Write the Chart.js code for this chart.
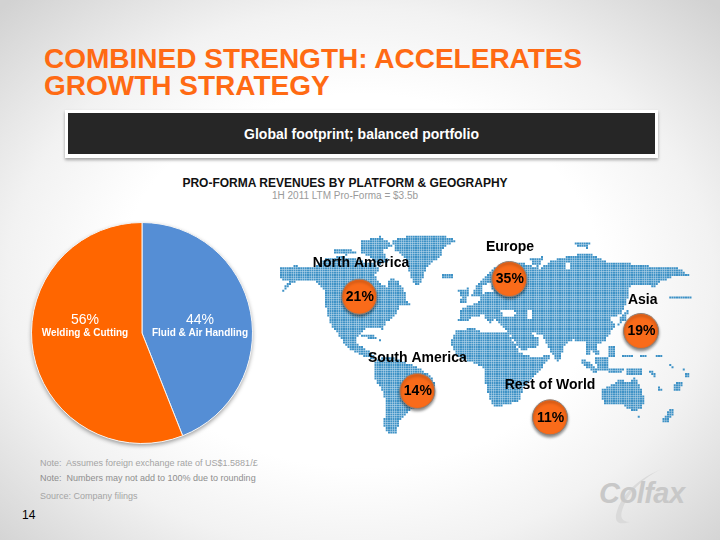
<!DOCTYPE html>
<html>
<head>
<meta charset="utf-8">
<title>Combined strength</title>
<script src="https://cdn.jsdelivr.net/npm/chart.js@4"></script>
<style>
  html, body { margin: 0; padding: 0; }
  body {
    position: relative; width: 720px; height: 540px; overflow: hidden;
    font-family: "Liberation Sans", Arial, sans-serif;
    background: radial-gradient(ellipse 70% 72% at 50% 52%, #fff 48%, #f2f2f2 70%, #d2d2d2 100%);
  }
  .t { position: absolute; white-space: nowrap; }
  #title { left: 44px; top: 45px; font-size: 28px; line-height: 27px; font-weight: bold; color: #ff6a13; }
  #banner { position: absolute; left: 65px; top: 110px; width: 593px; height: 48px; background: #fff; box-shadow: 0 2px 3px rgba(0,0,0,.35); }
  #bannerIn { position: absolute; left: 3px; top: 3px; width: 587px; height: 41px; background: #262626; color: #fff;
    font-size: 14px; font-weight: bold; line-height: 42px; text-align: center; }
  #sub1 { left: 0; width: 690px; text-align: center; top: 176px; font-size: 12px; font-weight: bold; color: #111; }
  #sub2 { left: 0; width: 690px; text-align: center; top: 190px; font-size: 10px; color: #9a9a9a; }
  .note { left: 40px; font-size: 9px; color: #a4a4a4; }
  #page { left: 22px; top: 508px; font-size: 12px; color: #000; }
  #logo { left: 599px; top: 477px; font-size: 29px; font-weight: bold; font-style: italic; color: #c8c8c8; letter-spacing: -.5px; }
  #swoosh { position: absolute; left: 590px; top: 465px; }
  canvas { position: absolute; }
  #pieChart { left: 22px; top: 213px; }
  #mapChart { left: 280px; top: 220px; }
</style>
</head>
<body>
<div class="t" id="title">COMBINED STRENGTH: ACCELERATES<br>GROWTH STRATEGY</div>
<div id="banner"><div id="bannerIn">Global footprint; balanced portfolio</div></div>
<div class="t" id="sub1">PRO-FORMA REVENUES BY PLATFORM &amp; GEOGRAPHY</div>
<div class="t" id="sub2">1H 2011 LTM Pro-Forma = $3.5b</div>
<canvas id="pieChart" width="240" height="240"></canvas>
<canvas id="mapChart" width="440" height="230"></canvas>
<div class="t note" style="top:458px">Note:&nbsp; Assumes foreign exchange rate of US$1.5881/£</div>
<div class="t note" style="top:473px;color:#8e8e8e">Note:&nbsp; Numbers may not add to 100% due to rounding</div>
<div class="t note" style="top:491px">Source: Company filings</div>
<div class="t" id="page">14</div>
<svg id="swoosh" width="110" height="65"><path d="M72 4 C50 12 30 30 26 50 C25 58 30 60 40 57 C32 57 30 52 32 46 C37 28 54 12 72 4 Z" fill="#dadada"/></svg>
<div class="t" id="logo">Colfax</div>

<script>
// platform split
const platformNames = ["Fluid & Air Handling", "Welding & Cutting"];
const platformShares = [44, 56];
const platformColors = ["#558ed5", "#ff6600"];

// geography split, x/y are in map units (see map polygons below)
const regionNames = ["North America", "Europe", "Asia", "South America", "Rest of World"];
const regionShares = [21, 35, 19, 14, 11];
const regionX = [238, 688, 1083, 412, 810];
const regionY = [230, 177, 333, 513, 592];
const regionLabelX = [243, 690, 1088, 412, 810];
const regionLabelY = [128, 80, 241, 414, 494];

// rough continent outlines, map units are 1/3 px across the map chart
const land = [
  // north america
  [[0,145],[45,137],[100,142],[135,115],[175,110],[215,112],[250,125],[280,130],[300,150],[285,165],[300,190],[322,200],[330,170],[350,180],[372,205],[378,235],[392,258],[360,258],[345,285],[315,310],[310,335],[298,320],[260,325],[235,345],[225,365],[240,378],[255,385],[268,395],[290,412],[278,418],[245,405],[205,385],[175,345],[150,310],[138,265],[135,215],[105,185],[60,180],[30,195],[0,225],[25,185],[0,175]],
  [[165,88],[200,85],[235,100],[200,105],[165,100]],
  [[240,65],[300,50],[340,75],[310,90],[325,125],[290,135],[270,110],[240,95]],
  // greenland, iceland, uk
  [[335,60],[400,45],[480,45],[530,60],[490,85],[480,110],[440,140],[420,195],[400,190],[385,150],[375,115],[345,90]],
  [[485,165],[520,165],[520,175],[488,178]],
  [[535,210],[565,205],[562,245],[535,250],[545,230]],
  // eurasia
  [[570,235],[590,195],[640,145],[670,130],[730,130],[780,145],[820,120],[880,105],[930,100],[980,125],[1040,130],[1120,140],[1195,145],[1225,165],[1180,170],[1140,185],[1125,205],[1110,195],[1050,195],[1045,230],[1025,280],[990,295],[1010,315],[985,345],[975,365],[950,372],[960,410],[945,400],[932,392],[925,418],[915,385],[915,365],[880,360],[855,372],[835,430],[800,375],[785,345],[745,335],[770,350],[780,365],[770,385],[720,390],[685,335],[660,310],[645,298],[630,310],[610,285],[580,290],[555,305],[535,300],[545,265],[590,250],[605,228],[585,225]],
  // africa
  [[510,370],[530,330],[580,325],[620,340],[660,340],[685,340],[720,398],[760,412],[815,405],[770,465],[730,500],[720,540],[680,555],[640,560],[620,510],[610,440],[570,425],[530,405]],
  // south america
  [[290,418],[330,408],[370,425],[410,440],[450,465],[465,495],[430,550],[390,570],[360,600],[345,645],[325,640],[310,615],[318,560],[312,520],[285,480],[280,440]],
  // australia and the islands
  [[965,510],[995,495],[1025,475],[1040,490],[1065,470],[1095,535],[1085,565],[1060,575],[1030,555],[970,555]],
  [[1070,585],[1080,585],[1080,595],[1070,595]],
  [[900,415],[925,425],[955,455],[945,462],[905,430]],
  [[945,410],[985,412],[985,450],[950,450]],
  [[985,445],[1030,445],[1030,455],[985,458]],
  [[1035,445],[1085,447],[1090,465],[1040,462]],
  [[985,375],[1005,378],[1005,410],[988,410]],
  [[1020,295],[1045,270],[1040,300],[1015,315]],
  [[1175,560],[1185,575],[1160,610],[1145,605]],
  [[240,345],[280,345],[305,362],[270,358]],
  [[750,115],[790,110],[775,140],[755,135]],
  [[885,65],[930,70],[925,85],[890,80]],
  [[1165,232],[1235,231],[1235,237],[1165,238]],
  [[1025,402],[1060,402],[1060,408],[1025,408]],
  [[1080,402],[1100,402],[1100,408],[1080,408]],
  [[1125,404],[1150,404],[1150,410],[1125,410]],
  [[1165,425],[1183,440],[1178,446],[1163,432]],
  [[1205,445],[1213,445],[1213,455],[1205,455]],
  [[1217,458],[1225,458],[1225,470],[1217,470]],
  [[1135,500],[1150,510],[1145,516],[1135,508]],
  [[1180,490],[1210,485],[1200,512],[1185,515]],
  [[1110,450],[1130,462],[1125,470],[1108,458]]
];
const lakes = [
  [[662,272],[690,268],[712,276],[700,288],[672,288]],
  [[742,270],[752,270],[756,298],[744,300]],
  [[605,195],[630,190],[640,215],[610,220]],
  [[855,130],[870,130],[868,150],[855,148]]
];

function polyPath(chart, poly) {
  const sx = chart.scales.x, sy = chart.scales.y, p = new Path2D();
  poly.forEach((pt, i) => {
    const x = sx.getPixelForValue(pt[0]), y = sy.getPixelForValue(pt[1]);
    if (i === 0) p.moveTo(x, y); else p.lineTo(x, y);
  });
  p.closePath();
  return p;
}

// dotted map, one small square per grid cell that falls on land
const mapPlugin = {
  id: "dottedMap",
  beforeDatasetsDraw(chart) {
    const ctx = chart.ctx, pitch = 2.25;
    const paths = land.map((l) => polyPath(chart, l));
    const holes = lakes.map((l) => polyPath(chart, l));
    ctx.save();
    ctx.fillStyle = "#3f92c6";
    for (let y = 0; y < chart.height; y += pitch) {
      for (let x = 0; x < chart.width; x += pitch) {
        const cx = x + 1, cy = y + 1;
        if (paths.some((p) => ctx.isPointInPath(p, cx, cy)) && !holes.some((p) => ctx.isPointInPath(p, cx, cy)))
          ctx.fillRect(x, y, 2, 2);
      }
    }
    ctx.restore();
  },
  beforeDatasetDraw(chart) {
    const ctx = chart.ctx;
    ctx.save();
    ctx.shadowColor = "rgba(0,0,0,.45)";
    ctx.shadowBlur = 3;
    ctx.shadowOffsetY = 2;
  },
  afterDatasetDraw(chart) {
    chart.ctx.restore();
  },
  afterDatasetsDraw(chart) {
    const ctx = chart.ctx, sx = chart.scales.x, sy = chart.scales.y;
    ctx.save();
    ctx.fillStyle = "#000";
    ctx.textAlign = "center";
    ctx.textBaseline = "middle";
    ctx.font = 'bold 14px "Liberation Sans"';
    regionNames.forEach((n, i) => ctx.fillText(n, sx.getPixelForValue(regionLabelX[i]), sy.getPixelForValue(regionLabelY[i])));
    regionShares.forEach((v, i) => ctx.fillText(v + "%", sx.getPixelForValue(regionX[i]) + 0.5, sy.getPixelForValue(regionY[i]) + 0.5));
    ctx.restore();
  },
};

new Chart(document.getElementById("mapChart"), {
  type: "scatter",
  data: {
    datasets: [{
      data: regionShares.map((v, i) => ({ x: regionX[i], y: regionY[i] })),
      pointRadius: 17.5,
      pointBackgroundColor: "#f96b1a",
      pointBorderColor: "#8d8078",
      pointBorderWidth: 1,
    }],
  },
  options: {
    responsive: false,
    animation: false,
    layout: { padding: 0, autoPadding: false },
    scales: {
      x: { type: "linear", min: 0, max: 1320, display: false },
      y: { type: "linear", min: 0, max: 690, reverse: true, display: false },
    },
    plugins: { legend: { display: false }, tooltip: { enabled: false } },
  },
  plugins: [mapPlugin],
});

// drop shadow under the pie and the two labels on top of it
const piePlugin = {
  id: "pieDressing",
  beforeDatasetsDraw(chart) {
    const a = chart.getDatasetMeta(0).data[0], ctx = chart.ctx;
    ctx.save();
    ctx.shadowColor = "rgba(0,0,0,.4)";
    ctx.shadowBlur = 4;
    ctx.shadowOffsetY = 2;
    ctx.fillStyle = "#fff";
    ctx.beginPath();
    ctx.arc(a.x, a.y, a.outerRadius, 0, Math.PI * 2);
    ctx.fill();
    ctx.restore();
  },
  afterDatasetsDraw(chart) {
    const a = chart.getDatasetMeta(0).data[0], ctx = chart.ctx;
    ctx.save();
    ctx.fillStyle = "#fff";
    ctx.textAlign = "center";
    ctx.textBaseline = "middle";
    platformNames.forEach((n, i) => {
      const x = a.x + (i === 0 ? 58 : -57);
      ctx.font = '14px "Liberation Sans"';
      ctx.fillText(platformShares[i] + "%", x, a.y - 13);
      ctx.font = 'bold 10px "Liberation Sans"';
      ctx.fillText(n, x, a.y);
    });
    ctx.restore();
  },
};

new Chart(document.getElementById("pieChart"), {
  type: "pie",
  data: {
    labels: platformNames,
    datasets: [{
      data: platformShares,
      backgroundColor: platformColors,
      borderColor: "#f4f4f4",
      borderWidth: 1,
      hoverOffset: 0,
    }],
  },
  options: {
    responsive: false,
    animation: false,
    layout: { padding: 9 },
    plugins: { legend: { display: false }, tooltip: { enabled: false } },
  },
  plugins: [piePlugin],
});
</script>
</body>
</html>
